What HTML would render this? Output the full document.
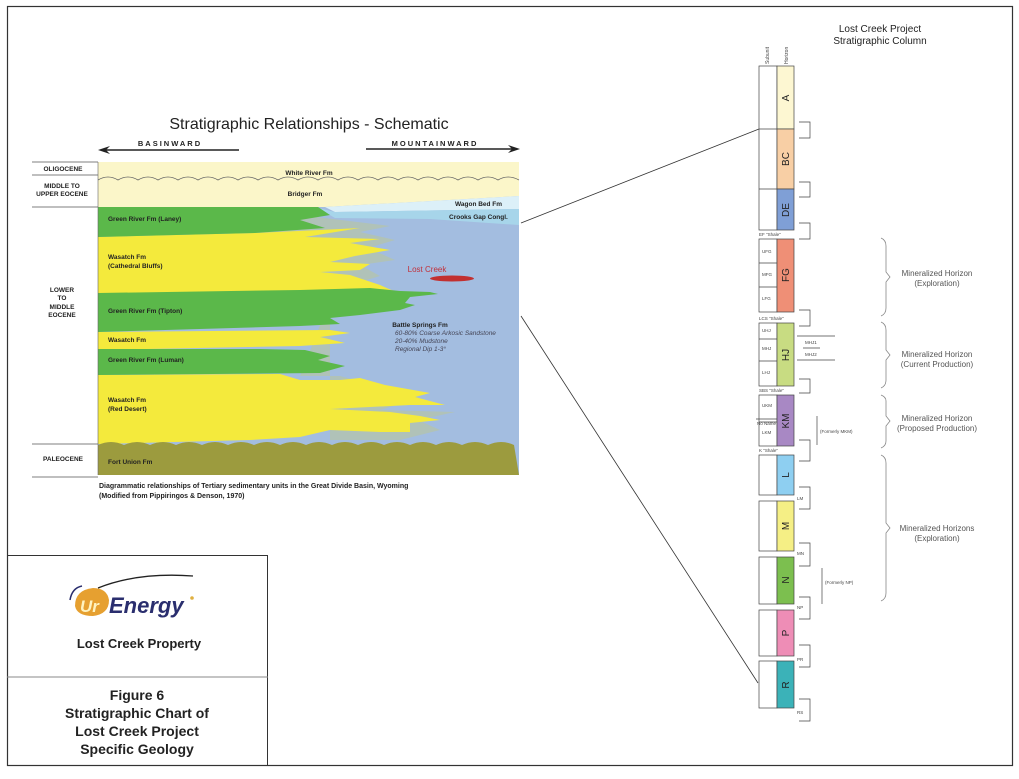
<!DOCTYPE html>
<html><head><meta charset="utf-8"><style>
html,body{margin:0;padding:0;background:#fff}
svg{display:block;font-family:"Liberation Sans",Arial,sans-serif}
</style></head><body>
<svg width="1019" height="779" viewBox="0 0 1019 779" xmlns="http://www.w3.org/2000/svg">
<rect x="0" y="0" width="1019" height="779" fill="#fff"/>
<rect x="7.5" y="6.5" width="1005" height="759" fill="none" stroke="#333" stroke-width="1.2"/>

<text x="309" y="129" font-size="16" text-anchor="middle" fill="#222">Stratigraphic Relationships - Schematic</text>
<text x="170" y="146" font-size="7.5" font-weight="bold" letter-spacing="2" text-anchor="middle" fill="#222">BASINWARD</text>
<text x="435" y="146" font-size="7.5" font-weight="bold" letter-spacing="2" text-anchor="middle" fill="#222">MOUNTAINWARD</text>
<line x1="104" y1="150" x2="239" y2="150" stroke="#222" stroke-width="1.5"/>
<polygon points="98,150 110,146 106,150 110,154" fill="#222"/>
<line x1="366" y1="149" x2="513" y2="149" stroke="#222" stroke-width="1.5"/>
<polygon points="520,149 508,145 512,149 508,153" fill="#222"/>

<g stroke="#555" stroke-width="0.8">
<line x1="32" y1="162" x2="98" y2="162"/>
<line x1="32" y1="175" x2="98" y2="175"/>
<line x1="32" y1="207" x2="98" y2="207"/>
<line x1="32" y1="444" x2="98" y2="444"/>
<line x1="32" y1="477" x2="98" y2="477"/>
</g>
<g font-size="6.5" font-weight="bold" fill="#222" text-anchor="middle">
<text x="63" y="171">OLIGOCENE</text>
<text x="62" y="188">MIDDLE TO</text>
<text x="62" y="196">UPPER EOCENE</text>
<text x="62" y="292">LOWER</text>
<text x="62" y="300">TO</text>
<text x="62" y="309">MIDDLE</text>
<text x="62" y="317">EOCENE</text>
<text x="63" y="461">PALEOCENE</text>
</g>

<rect x="98" y="162" width="421" height="313" fill="#a3bde0"/>
<polygon points="98,162 519,162 519,196 325,207 98,207" fill="#fbf6c9"/>
<path d="M98,180 q10,-6 20,0 q10,-6 20,0 q10,-6 20,0 q10,-6 20,0 q10,-6 20,0 q10,-6 20,0 q10,-6 20,0 q10,-6 20,0 q10,-6 20,0 q10,-6 20,0 q10,-6 20,0 q10,-6 20,0 q10,-6 20,0 q10,-6 20,0 q10,-6 20,0 q10,-6 20,0 q10,-6 20,0 q10,-6 20,0 q10,-6 20,0 q10,-6 20,0 q10,-6 21,0" fill="none" stroke="#666" stroke-width="0.8"/>
<polygon points="325,207 519,196 519,209 335,212" fill="#dcf0f8"/>
<polygon points="318,208 335,212 519,209 519,225 430,219 335,218" fill="#a7d5ea"/>
<polygon points="300,215 390,226 360,232 395,240 368,248 395,260 360,265 380,276 350,285 395,290 330,300 330,440 400,440 440,430 418,420 455,412 380,410 420,398 390,390 355,380 340,376 300,376 330,300 300,295 98,295 98,215" fill="#b0c2b8"/>
<polygon points="98,237 255,233 320,230 360,228 305,237 380,239 350,243 390,250 355,256 330,262 370,264 360,270 320,272 350,275 380,285 398,293 380,297 340,296 98,296" fill="#f4ea3c"/>
<polygon points="98,332 330,330 350,333 320,337 345,343 300,346 98,350" fill="#f4ea3c"/>
<polygon points="98,375 280,374 300,380 340,380 360,378 385,385 430,393 415,397 445,405 410,405 330,409 390,412 420,416 440,420 410,423 410,432 380,432 330,430 300,437 250,440 98,444" fill="#f4ea3c"/>
<polygon points="98,207 318,207 330,215 300,220 325,228 255,233 98,237" fill="#5bb84a"/>
<polygon points="98,293 300,290 370,288 400,291 430,292 438,294 410,297 405,303 415,305 400,310 360,315 330,318 340,324 300,326 98,332" fill="#5bb84a"/>
<polygon points="98,349 260,349 305,350 330,356 318,360 345,366 320,373 98,375" fill="#5bb84a"/>
<path d="M98,445 q13,-6 26,0 q13,-6 26,0 q13,-6 26,0 q13,-6 26,0 q13,-6 26,0 q13,-6 26,0 q13,-6 26,0 q13,-6 26,0 q13,-6 26,0 q13,-6 26,0 q13,-6 26,0 q13,-6 26,0 q13,-6 26,0 q13,-6 26,0 q13,-6 26,0 q13,-6 26,0 L519,475 L98,475 Z" fill="#9c9b3e"/>
<line x1="98" y1="162" x2="98" y2="475" stroke="#666" stroke-width="0.6"/>

<g font-size="6.5" font-weight="bold" fill="#222">
<text x="309" y="175" text-anchor="middle">White River Fm</text>
<text x="305" y="196" text-anchor="middle">Bridger Fm</text>
<text x="455" y="206">Wagon Bed Fm</text>
<text x="449" y="219">Crooks Gap Congl.</text>
<text x="108" y="221">Green River Fm (Laney)</text>
<text x="108" y="259">Wasatch Fm</text>
<text x="108" y="268">(Cathedral Bluffs)</text>
<text x="108" y="313">Green River Fm (Tipton)</text>
<text x="108" y="342">Wasatch Fm</text>
<text x="108" y="362">Green River Fm (Luman)</text>
<text x="108" y="402">Wasatch Fm</text>
<text x="108" y="411">(Red Desert)</text>
<text x="108" y="464">Fort Union Fm</text>
<text x="420" y="327" text-anchor="middle">Battle Springs Fm</text>
</g>
<g font-size="6.5" font-style="italic" fill="#445">
<text x="395" y="335">60-80% Coarse Arkosic Sandstone</text>
<text x="395" y="343">20-40% Mudstone</text>
<text x="395" y="351">Regional Dip 1-3°</text>
</g>
<text x="427" y="272" font-size="8" fill="#c0303a" text-anchor="middle">Lost Creek</text>
<ellipse cx="452" cy="278.5" rx="22" ry="3" fill="#c23030"/>

<text x="99" y="488" font-size="7" font-weight="bold" fill="#222">Diagrammatic relationships of Tertiary sedimentary units in the Great Divide Basin, Wyoming</text>
<text x="99" y="498" font-size="7" font-weight="bold" fill="#222">(Modified from Pippiringos &amp; Denson, 1970)</text>

<line x1="521" y1="223" x2="759" y2="129" stroke="#333" stroke-width="0.8"/>
<line x1="521" y1="316" x2="758" y2="683" stroke="#333" stroke-width="0.8"/>

<rect x="7.5" y="555.5" width="260" height="210" fill="none" stroke="#333" stroke-width="1"/>
<line x1="7" y1="677" x2="268" y2="677" stroke="#888" stroke-width="1"/>
<path d="M98,588 q40,-16 95,-12" fill="none" stroke="#222" stroke-width="1.3"/>
<circle cx="192" cy="598" r="1.8" fill="#e0b040"/>
<path d="M75,606 q0,-16 18,-18 q14,0 16,12 q0,14 -16,16 q-16,0 -18,-10 z" fill="#e6a030"/>
<path d="M70,600 q2,-12 12,-14" fill="none" stroke="#2a2e6e" stroke-width="1.5"/>
<text x="80" y="612" font-size="17" font-style="italic" font-weight="bold" fill="#fff3c0">Ur</text>
<text x="109" y="613" font-size="22" font-style="italic" font-weight="bold" fill="#2a2e6e">Energy</text>
<text x="139" y="648" font-size="13" font-weight="bold" text-anchor="middle" fill="#222">Lost Creek Property</text>
<g font-size="14" font-weight="bold" fill="#222" text-anchor="middle">
<text x="137" y="700">Figure 6</text>
<text x="137" y="718">Stratigraphic Chart of</text>
<text x="137" y="736">Lost Creek Project</text>
<text x="137" y="754">Specific Geology</text>
</g>

<text x="880" y="32" font-size="10" text-anchor="middle" fill="#222">Lost Creek Project</text>
<text x="880" y="44" font-size="10" text-anchor="middle" fill="#222">Stratigraphic Column</text>
<text font-size="5" fill="#444" transform="translate(769,64) rotate(-90)">Subunit</text>
<text font-size="5" fill="#444" transform="translate(788,64) rotate(-90)">Horizon</text>
<g stroke="#444" stroke-width="0.7">
<rect x="759" y="66" width="18" height="164" fill="#fff"/>
<line x1="759" y1="129" x2="777" y2="129"/>
<line x1="759" y1="189" x2="777" y2="189"/>
<rect x="777" y="66" width="17" height="63" fill="#fdf7d2"/>
<rect x="777" y="129" width="17" height="60" fill="#f8cfa5"/>
<rect x="777" y="189" width="17" height="41" fill="#7f9fd6"/>
<rect x="759" y="239" width="18" height="73" fill="#fff"/>
<rect x="777" y="239" width="17" height="73" fill="#ef8f76"/>
<rect x="759" y="323" width="18" height="63" fill="#fff"/>
<rect x="777" y="323" width="17" height="63" fill="#c8dc82"/>
<rect x="759" y="395" width="18" height="51" fill="#fff"/>
<rect x="777" y="395" width="17" height="51" fill="#a888c4"/>
<rect x="759" y="455" width="18" height="40" fill="#fff"/>
<rect x="777" y="455" width="17" height="40" fill="#8ecff1"/>
<rect x="759" y="501" width="18" height="50" fill="#fff"/>
<rect x="777" y="501" width="17" height="50" fill="#f5ef85"/>
<rect x="759" y="557" width="18" height="47" fill="#fff"/>
<rect x="777" y="557" width="17" height="47" fill="#7cbf4f"/>
<rect x="759" y="610" width="18" height="46" fill="#fff"/>
<rect x="777" y="610" width="17" height="46" fill="#ee8db6"/>
<rect x="759" y="661" width="18" height="47" fill="#fff"/>
<rect x="777" y="661" width="17" height="47" fill="#3bb2b8"/>
<line x1="759" y1="263" x2="777" y2="263"/><line x1="759" y1="287" x2="777" y2="287"/>
<line x1="759" y1="339" x2="777" y2="339"/><line x1="759" y1="361" x2="777" y2="361"/>
<line x1="756" y1="419" x2="777" y2="419"/><line x1="759" y1="422" x2="777" y2="422"/>
<line x1="797" y1="336" x2="835" y2="336"/><line x1="797" y1="360" x2="835" y2="360"/>
<line x1="803" y1="348" x2="820" y2="348"/>
<line x1="817" y1="416" x2="817" y2="445"/>
<line x1="822" y1="568" x2="822" y2="604"/>
</g>
<g fill="none" stroke="#444" stroke-width="0.7">
<polyline points="799,122 810,122 810,138 799,138"/>
<polyline points="799,182 810,182 810,197 799,197"/>
<polyline points="799,223 810,223 810,239 799,239"/>
<polyline points="799,310 810,310 810,326 799,326"/>
<polyline points="799,379 810,379 810,393 799,393"/>
<polyline points="799,440 810,440 810,461 799,461"/>
<polyline points="799,487 810,487 810,509 799,509"/>
<polyline points="799,543 810,543 810,566 799,566"/>
<polyline points="799,597 810,597 810,619 799,619"/>
<polyline points="799,645 810,645 810,667 799,667"/>
<polyline points="799,699 810,699 810,721 799,721"/>
</g>
<g fill="none" stroke="#888" stroke-width="0.8">
<path d="M881,238 q5,2 5,8 v26 l4,5 l-4,5 v26 q0,6 -5,8"/>
<path d="M881,322 q5,2 5,8 v20 l4,5 l-4,5 v20 q0,6 -5,8"/>
<path d="M881,395 q5,2 5,6 v15 l4,5 l-4,5 v15 q0,5 -5,7"/>
<path d="M881,455 q5,2 5,8 v60 l4,5 l-4,5 v60 q0,6 -5,8"/>
</g>
<g font-size="8" fill="#555" text-anchor="middle">
<text x="937" y="276">Mineralized Horizon</text><text x="937" y="286">(Exploration)</text>
<text x="937" y="357">Mineralized Horizon</text><text x="937" y="367">(Current Production)</text>
<text x="937" y="421">Mineralized Horizon</text><text x="937" y="431">(Proposed Production)</text>
<text x="937" y="531">Mineralized Horizons</text><text x="937" y="541">(Exploration)</text>
</g>
<g font-size="10" fill="#222" text-anchor="middle">
<text transform="translate(789,98) rotate(-90)">A</text>
<text transform="translate(789,159) rotate(-90)">BC</text>
<text transform="translate(789,210) rotate(-90)">DE</text>
<text transform="translate(789,275) rotate(-90)">FG</text>
<text transform="translate(789,355) rotate(-90)">HJ</text>
<text transform="translate(789,421) rotate(-90)">KM</text>
<text transform="translate(789,475) rotate(-90)">L</text>
<text transform="translate(789,526) rotate(-90)">M</text>
<text transform="translate(789,580) rotate(-90)">N</text>
<text transform="translate(789,633) rotate(-90)">P</text>
<text transform="translate(789,685) rotate(-90)">R</text>
</g>
<g font-size="4.5" fill="#444">
<text x="759" y="236">EF "Shale"</text>
<text x="759" y="320">LCS "Shale"</text>
<text x="759" y="392">SBS "Shale"</text>
<text x="759" y="452">K "Shale"</text>
<text x="762" y="253">UFG</text><text x="762" y="276">MFG</text><text x="762" y="300">LFG</text>
<text x="762" y="332">UHJ</text><text x="762" y="350">MHJ</text><text x="762" y="374">LHJ</text>
<text x="762" y="407">UKM</text><text x="757" y="425">No Name</text><text x="762" y="434">LKM</text>
<text x="805" y="344">MHJ1</text><text x="805" y="356">MHJ2</text>
<text x="820" y="433">(Formerly MKM)</text>
<text x="825" y="584">(Formerly NP)</text>
<text x="797" y="500">LM</text><text x="797" y="555">MN</text><text x="797" y="609">NP</text>
<text x="797" y="661">PR</text><text x="797" y="714">RS</text>
</g>
</svg>
</body></html>
